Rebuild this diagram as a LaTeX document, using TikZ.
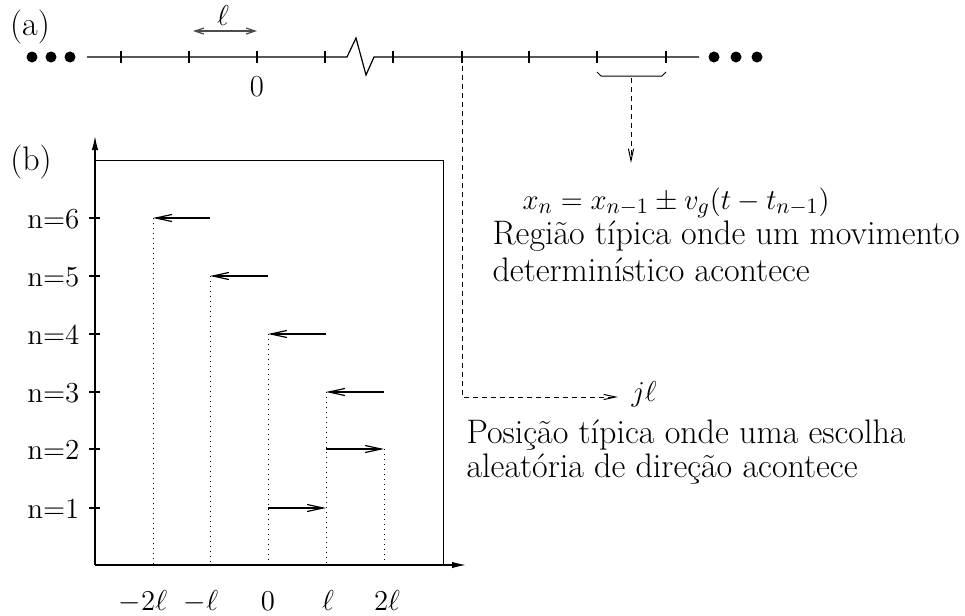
\documentclass[tikz,border=0pt]{standalone}
\usepackage{fontspec}
\usetikzlibrary{arrows.meta}
\begin{document}
\begin{tikzpicture}[x=0.5pt,y=-0.5pt,line width=0.6pt,
  txt/.style={inner sep=0pt,anchor=base,font=\fontsize{17}{20}\selectfont},
  mtxt/.style={inner sep=0pt,anchor=base,font=\fontsize{15.3}{18}\selectfont},
  ltxt/.style={txt,anchor=base west},
  nlab/.style={inner sep=0pt,anchor=base east,font=\fontsize{14.5}{18}\selectfont},
  barb/.style={-{Straight Barb[length=8pt,width=3.5pt]}},
  ellarr/.style={{Straight Barb[length=4.5pt,width=3pt]}-{Straight Barb[length=4.5pt,width=3pt]},black!70},
  dasharr/.style={line width=0.5pt,dash pattern=on 2.5pt off 2pt,-{Straight Barb[length=6pt,width=2.6pt]}},
  axarr/.style={-{Latex[length=7pt,width=3.2pt]}},
  dotl/.style={dotted,line width=0.5pt},
  ball/.style={circle,fill,inner sep=0pt,minimum size=5.5pt}]
\useasboundingbox (0,0) rectangle (965,616);

% ---------- (a) ----------
\node[txt] (la) at (30,35) {(a)};
\foreach \x [count=\i] in {32,51,70} \node[ball] (dl\i) at (\x,57) {};
\foreach \x [count=\i] in {714,736,757} \node[ball] (dr\i) at (\x,57) {};
\coordinate (La) at (87,57);
\coordinate (Lb) at (347,57);
\coordinate (Z1) at (356,38);
\coordinate (Z2) at (366,75);
\coordinate (Lc) at (374,57);
\coordinate (Ld) at (699,57);
\draw (La) -- (Lb) -- (Z1) -- (Z2) -- (Lc) -- (Ld);
\foreach \x in {121,189,257,325,393,462,529,597,666}
  \draw (\x,51) -- (\x,63);
\coordinate (ellA) at (193,31);
\coordinate (ellB) at (257,31);
\draw[ellarr] (ellA) -- (ellB);
\node[mtxt] (ell) at (223,25) {$\ell$};
\node[mtxt] (zeroA) at (257,96) {0};
% brace
\coordinate (B1) at (597,72);
\coordinate (B2) at (601,76);
\coordinate (B3) at (662,76);
\coordinate (B4) at (666,72);
\draw[line width=0.5pt] (B1) -- (B2) -- (B3) -- (B4);
\coordinate (Bm) at (631,78);
\coordinate (Bt) at (631,163);
\draw[dasharr] (Bm) -- (Bt);
% dashed L
\coordinate (J0) at (462,57);
\coordinate (J1) at (462,397);
\coordinate (J2) at (618,397);
\draw[dasharr] (J0) -- (J1) -- (J2);
\node[mtxt,anchor=base west] (jl) at (631,401) {$j\ell$};

% texts
\node[mtxt,anchor=base west] (eq) at (522,209) {$x_n = x_{n-1} \pm v_g(t-t_{n-1})$};
\node[ltxt] (r1) at (492,244) {Região típica onde um movimento};
\node[ltxt] (r2) at (492,281) {determinístico acontece};
\node[ltxt] (p1) at (466,443) {Posição típica onde uma escolha};
\node[ltxt] (p2) at (466,477) {aleatória de direção acontece};

% ---------- (b) ----------
\node[txt] (lb) at (31,170) {(b)};
\coordinate (O) at (95,565);
\coordinate (Ytop) at (95,136);
\coordinate (Xend) at (466,565);
\draw[axarr] (O) -- (Ytop);
\draw[axarr] (O) -- (Xend);
\coordinate (BoxTL) at (95,160);
\coordinate (BoxTR) at (443,160);
\coordinate (BoxBR) at (443,565);
\draw[line width=0.5pt] (BoxTL) -- (BoxTR) -- (BoxBR);

\foreach \n/\y in {1/508,2/449,3/392,4/334,5/276,6/218}{
  \draw (89,\y) -- (100,\y);
  \node[nlab] (n\n) at (80,\y+10) {n=\n};
}

% positions
\coordinate (m2) at (153,565);
\coordinate (m1) at (210,565);
\coordinate (z0) at (268,565);
\coordinate (p1c) at (326,565);
\coordinate (p2c) at (384,565);

\coordinate (s6) at (153,218); \coordinate (e6) at (210,218);
\coordinate (s5) at (210,276); \coordinate (e5) at (268,276);
\coordinate (s4) at (268,334); \coordinate (e4) at (326,334);
\coordinate (s3) at (326,392); \coordinate (e3) at (384,392);
\coordinate (s2) at (326,449); \coordinate (e2) at (384,449);
\coordinate (s1) at (268,508); \coordinate (e1) at (326,508);

\draw[barb] (e6) -- (s6);
\draw[barb] (e5) -- (s5);
\draw[barb] (e4) -- (s4);
\draw[barb] (e3) -- (s3);
\draw[barb] (s2) -- (e2);
\draw[barb] (s1) -- (e1);

\draw[dotl] (s6) -- (m2);
\draw[dotl] (s5) -- (m1);
\draw[dotl] (s4) -- (z0);
\draw[dotl] (s3) -- (p1c);
\draw[dotl] (e2) -- (p2c);

\node[mtxt] (xm2) at (143,610) {$-2\ell$};
\node[mtxt] (xm1) at (201,610) {$-\ell$};
\node[mtxt] (x0) at (268,610) {$0$};
\node[mtxt] (xp1) at (328,610) {$\ell$};
\node[mtxt] (xp2) at (387,610) {$2\ell$};
\end{tikzpicture}
\end{document}
